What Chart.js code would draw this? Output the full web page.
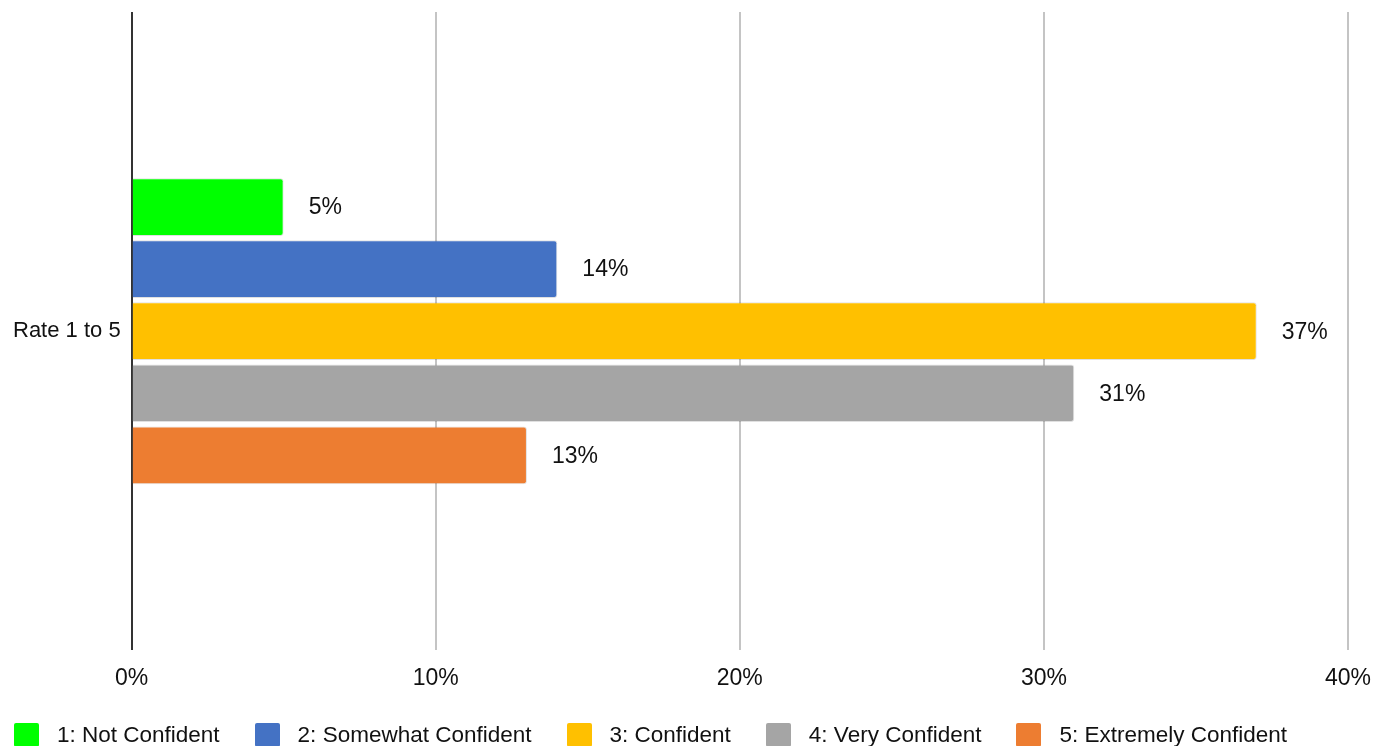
<!DOCTYPE html>
<html>
<head>
<meta charset="utf-8">
<script src="https://cdn.jsdelivr.net/npm/chart.js@4.4.0/dist/chart.umd.min.js"></script>
<style>
  html, body { margin: 0; padding: 0; background: #fff; overflow: hidden; }
  #wrap { position: relative; width: 1385px; height: 746px; }
  #legend {
    position: absolute; left: 14px; top: 722px;
    display: flex; align-items: flex-start;
    font: 22.5px "Liberation Sans", Arial, sans-serif; color: #111;
    white-space: nowrap;
  }
  #legend .item { display: flex; align-items: center; margin-right: 35px; line-height: 26px; }
  #legend .box { width: 25px; height: 24px; border-radius: 2px; margin-right: 18px; }
</style>
</head>
<body>
<div id="wrap">
  <canvas id="rateChart"></canvas>
  <div id="legend"></div>
</div>
<script>
const categories = ["Rate 1 to 5"];
const seriesNames = [
  "1: Not Confident",
  "2: Somewhat Confident",
  "3: Confident",
  "4: Very Confident",
  "5: Extremely Confident",
];
const seriesValues = [5, 14, 37, 31, 13];
const seriesColors = ["#00ff00", "#4472c4", "#ffc000", "#a5a5a5", "#ed7d31"];
const tickLabels = ["0%", "10%", "20%", "30%", "40%"];

const FONT = "'Liberation Sans', Arial, sans-serif";
const TEXT = "#111";

// value labels to the right of each bar, with a white halo
const valueLabels = {
  id: "valueLabels",
  afterDatasetsDraw(chart) {
    const ctx = chart.ctx;
    ctx.save();
    ctx.font = "23px " + FONT;
    ctx.textAlign = "left";
    ctx.textBaseline = "middle";
    ctx.lineJoin = "round";
    chart.data.datasets.forEach((ds, i) => {
      const meta = chart.getDatasetMeta(i);
      meta.data.forEach((bar, j) => {
        const text = ds.data[j] + "%";
        const x = bar.x + 25;
        const y = bar.y + 1;
        ctx.strokeStyle = "#fff";
        ctx.lineWidth = 5;
        ctx.strokeText(text, x, y);
        ctx.fillStyle = TEXT;
        ctx.fillText(text, x, y);
      });
    });
    ctx.restore();
  },
};

const datasets = seriesNames.map((name, i) => ({
  label: name,
  data: [seriesValues[i]],
  backgroundColor: seriesColors[i],
  borderColor: "rgba(0,0,0,0.12)",
  borderWidth: 1,
  borderSkipped: "start",
  borderRadius: 3,
  barPercentage: 0.93,
  categoryPercentage: 0.486,
}));

const ctx = document.getElementById("rateChart").getContext("2d");
new Chart(ctx, {
  type: "bar",
  data: { labels: categories, datasets: datasets },
  options: {
    indexAxis: "y",
    responsive: true,
    maintainAspectRatio: false,
    animation: false,
    layout: { padding: { left: 2, right: 31, top: 12, bottom: 40 } },
    plugins: {
      legend: { display: false },
      tooltip: { enabled: false },
    },
    scales: {
      x: {
        min: 0,
        max: 40,
        border: { display: false },
        grid: {
          drawTicks: false,
          lineWidth: 2,
          color: (c) => (c.tick && c.tick.value === 0 ? "#333333" : "#c4c4c4"),
        },
        ticks: {
          stepSize: 10,
          padding: 14,
          color: TEXT,
          font: { family: FONT, size: 23 },
          callback: (v, idx) => tickLabels[idx],
        },
      },
      y: {
        border: { display: false },
        grid: { display: false, drawTicks: false },
        ticks: {
          padding: 11,
          color: TEXT,
          font: { family: FONT, size: 22 },
        },
        // the single category label sits mid-axis, so it needs no room above/below
        afterFit: (scale) => {
          scale.paddingTop = 0;
          scale.paddingBottom = 0;
        },
      },
    },
  },
  plugins: [valueLabels],
});

// legend along the bottom edge
const legend = document.getElementById("legend");
seriesNames.forEach((name, i) => {
  const item = document.createElement("div");
  item.className = "item";
  const box = document.createElement("span");
  box.className = "box";
  box.style.background = seriesColors[i];
  const label = document.createElement("span");
  label.textContent = name;
  item.appendChild(box);
  item.appendChild(label);
  legend.appendChild(item);
});
</script>
</body>
</html>
